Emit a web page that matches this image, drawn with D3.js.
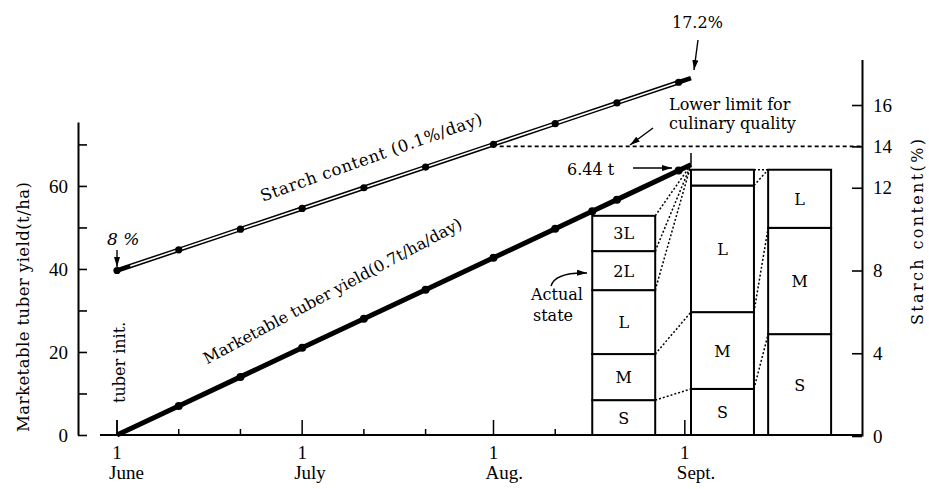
<!DOCTYPE html>
<html><head><meta charset="utf-8">
<script src="https://cdn.jsdelivr.net/npm/d3@7/dist/d3.min.js"></script>
<style>body{margin:0;background:#fff}svg{display:block}</style>
</head><body>
<svg id="chart" width="929" height="489"></svg>
<script>
// ---------------- data ----------------
const starchDays   = [0, 10, 20, 30, 40, 50, 61, 71, 81, 91, 93];
const starchValues = [8.0, 9.0, 10.0, 11.0, 12.0, 13.0, 14.1, 15.1, 16.1, 17.1, 17.3];
const yieldDays    = [0, 10, 20, 30, 40, 50, 61, 71, 77, 81, 91, 93];
const yieldValues  = [0, 7.0, 14.0, 21.0, 28.0, 35.0, 42.7, 49.7, 53.9, 56.7, 63.7, 65.1];
const limitStarch  = 14;
const barStartDays = [77, 93, 105.5];
const barClasses   = [["S", "M", "L", "2L", "3L"], ["S", "M", "L", ""], ["S", "M", "L"]];
const barSegments  = [[8.4, 11.1, 15.4, 9.4, 8.5], [11.1, 18.5, 30.5, 3.8], [24.3, 25.6, 14.0]];
// dotted links: [boundary index in bar i, boundary index in bar i+1] (-1 = end of yield line)
const barLinks     = [[[0, 0], [1, 1], [2, -1], [3, -1], [4, -1]], [[0, 0], [1, 1], [2, 2], [3, 2]]];
const leftTicks    = [0, 10, 20, 30, 40, 50, 60, 70];
const leftLabels   = [0, 20, 40, 60];
const rightTicks   = [0, 4, 8, 12, 14, 16];
const monthDays    = [0, 30, 61, 92];
const monthNames   = ["June", "July", "Aug.", "Sept."];
const minorDays    = [10, 20, 40, 50, 71, 81];

// ---------------- layout ----------------
const svg = d3.select("#chart");
const serif = "'DejaVu Serif', serif";
const numFont = "'Liberation Serif', serif";
const x  = d3.scaleLinear().domain([0, 93]).range([117, 691]);
const yL = d3.scaleLinear().domain([0, 75.4]).range([435, 122]);
const yR = d3.scaleLinear().domain([0, 18.2]).range([436, 59.5]);
const barW = 10.2;
const axisY = 435, axisLeftX = 78, axisRightX = 862;

const defs = svg.append("defs");
defs.append("marker").attr("id", "ah").attr("viewBox", "0 0 10 6")
  .attr("refX", 10).attr("refY", 3).attr("markerWidth", 10).attr("markerHeight", 6)
  .attr("markerUnits", "userSpaceOnUse").attr("orient", "auto")
  .append("path").attr("d", "M0,0 L10,3 L0,6 Z").attr("fill", "#000");

// left axis
const gL = svg.append("g").attr("transform", `translate(${axisLeftX},0)`)
  .call(d3.axisLeft(yL).tickValues(leftTicks).tickSizeInner(-9).tickSizeOuter(0).tickPadding(10)
    .tickFormat(d => leftLabels.includes(d) ? d : ""));
gL.selectAll("path.domain").attr("stroke", "#000").attr("stroke-width", 2);
gL.selectAll(".tick line").attr("stroke", "#000").attr("stroke-width", 1.6);
gL.selectAll(".tick text").attr("font-family", numFont).attr("font-size", 19).attr("fill", "#000");

// right axis
const gR = svg.append("g").attr("transform", `translate(${axisRightX},0)`)
  .call(d3.axisRight(yR).tickValues(rightTicks).tickSizeInner(-10).tickSizeOuter(0).tickPadding(11));
gR.selectAll("path.domain").attr("stroke", "#000").attr("stroke-width", 2);
gR.selectAll(".tick line").attr("stroke", "#000").attr("stroke-width", 1.6);
gR.selectAll(".tick text").attr("font-family", numFont).attr("font-size", 19).attr("fill", "#000");

// bottom axis
svg.append("line").attr("x1", 100).attr("x2", axisRightX).attr("y1", axisY).attr("y2", axisY)
  .attr("stroke", "#000").attr("stroke-width", 2);
svg.selectAll(".minor").data(minorDays).join("line")
  .attr("x1", d => x(d)).attr("x2", d => x(d)).attr("y1", axisY).attr("y2", axisY - 6)
  .attr("stroke", "#000").attr("stroke-width", 1.5);
svg.selectAll(".major").data(monthDays).join("line")
  .attr("x1", d => x(d)).attr("x2", d => x(d)).attr("y1", axisY).attr("y2", axisY - 15)
  .attr("stroke", "#000").attr("stroke-width", 1.5);
svg.selectAll(".mday").data(monthDays).join("text")
  .attr("x", d => x(d)).attr("y", 459).attr("text-anchor", "middle")
  .attr("font-family", numFont).attr("font-size", 19).text("1");
svg.selectAll(".mname").data(monthDays).join("text")
  .attr("x", d => x(d) - 8).attr("y", 479)
  .attr("font-family", numFont).attr("font-size", 19).text((d, i) => monthNames[i]);

// axis titles
svg.append("text").attr("transform", "translate(29,307) rotate(-90)").attr("text-anchor", "middle")
  .attr("font-family", serif).attr("font-size", 16.5).attr("textLength", 250).attr("lengthAdjust", "spacing")
  .text("Marketable tuber yield(t/ha)");
svg.append("text").attr("transform", "translate(923,232) rotate(-90)").attr("text-anchor", "middle")
  .attr("font-family", serif).attr("font-size", 16).attr("textLength", 186).attr("lengthAdjust", "spacing")
  .text("Starch content(%)");

// lower limit line
svg.append("line").attr("x1", x(62)).attr("x2", axisRightX).attr("y1", yR(limitStarch)).attr("y2", yR(limitStarch))
  .attr("stroke", "#000").attr("stroke-width", 1.6).attr("stroke-dasharray", "4,3");

// bars
const bars = barSegments.map((segs, i) => {
  let acc = 0;
  const bounds = segs.map(v => (acc += v));
  return { i, x0: x(barStartDays[i]), x1: x(barStartDays[i] + barW), segs, bounds };
});
bars.forEach(b => {
  const g = svg.append("g");
  let prev = 0;
  b.bounds.forEach((top, j) => {
    g.append("rect").attr("x", b.x0).attr("y", yL(top)).attr("width", b.x1 - b.x0)
      .attr("height", yL(prev) - yL(top)).attr("fill", "#fff").attr("stroke", "#000").attr("stroke-width", 2);
    if (barClasses[b.i][j]) {
      g.append("text").attr("x", (b.x0 + b.x1) / 2).attr("y", (yL(prev) + yL(top)) / 2 + 6)
        .attr("text-anchor", "middle").attr("font-family", serif).attr("font-size", 16)
        .text(barClasses[b.i][j]);
    }
    prev = top;
  });
});
// links between bars
const yieldEnd = [x(yieldDays[yieldDays.length - 1]), yL(yieldValues[yieldValues.length - 1])];
barLinks.forEach((links, i) => {
  const a = bars[i], b = bars[i + 1];
  links.forEach(([p, q]) => {
    const x2 = q < 0 ? yieldEnd[0] : b.x0;
    const y2 = q < 0 ? yieldEnd[1] : yL(b.bounds[q]);
    svg.append("line").attr("x1", a.x1).attr("y1", yL(a.bounds[p])).attr("x2", x2).attr("y2", y2)
      .attr("stroke", "#000").attr("stroke-width", 1.5).attr("stroke-dasharray", "2,2");
  });
});
// marker line at end of yield
svg.append("line").attr("x1", yieldEnd[0]).attr("x2", yieldEnd[0]).attr("y1", yieldEnd[1]).attr("y2", 153)
  .attr("stroke", "#000").attr("stroke-width", 1.5);
// tuber init tick
svg.append("line").attr("x1", x(0)).attr("x2", x(0)).attr("y1", axisY).attr("y2", axisY - 15)
  .attr("stroke", "#000").attr("stroke-width", 1.5);

// starch line (double line)
const starchPts = starchDays.map((d, i) => [x(d), yR(starchValues[i])]);
const lineGen = d3.line();
svg.append("path").attr("d", lineGen(starchPts)).attr("fill", "none")
  .attr("stroke", "#000").attr("stroke-width", 4.6);
svg.append("path").attr("d", lineGen(starchPts.slice(0, -1))).attr("fill", "none")
  .attr("stroke", "#fff").attr("stroke-width", 1.6).attr("stroke-dasharray", "0,14,5000");
svg.selectAll(".sdot").data(starchPts.slice(0, -1)).join("circle")
  .attr("cx", d => d[0]).attr("cy", d => d[1]).attr("r", 3.6).attr("fill", "#000");

// yield line
const yieldPts = yieldDays.map((d, i) => [x(d), yL(yieldValues[i])]);
svg.append("path").attr("d", lineGen(yieldPts)).attr("fill", "none")
  .attr("stroke", "#000").attr("stroke-width", 5);
svg.selectAll(".ydot").data(yieldPts.slice(1, -1)).join("circle")
  .attr("cx", d => d[0]).attr("cy", d => d[1]).attr("r", 4).attr("fill", "#000");

// labels along lines (anchored at a fraction of each line, tilted a little more than the line)
function along(pts, t, off, extraTilt) {
  const a = pts[0], b = pts[pts.length - 1];
  const ang = Math.atan2(b[1] - a[1], b[0] - a[0]) * 180 / Math.PI - extraTilt;
  const px = a[0] + (b[0] - a[0]) * t, py = a[1] + (b[1] - a[1]) * t - off;
  return `translate(${px},${py}) rotate(${ang})`;
}
svg.append("text").attr("transform", along(starchPts, 0.254, 20, 1))
  .attr("font-family", serif).attr("font-size", 16.5).attr("textLength", 234).attr("lengthAdjust", "spacing")
  .text("Starch content (0.1%/day)");
svg.append("text").attr("transform", along(yieldPts, 0.157, 28, 3))
  .attr("font-family", serif).attr("font-size", 16)
  .text("Marketable tuber yield(0.7t/ha/day)");

// annotations
function txt(s, x0, y0, anchor, extra) {
  const t = svg.append("text").attr("x", x0).attr("y", y0).attr("text-anchor", anchor || "start")
    .attr("font-family", serif).attr("font-size", 16).text(s);
  if (extra) extra(t);
  return t;
}
function arrow(x1, y1, x2, y2) {
  svg.append("line").attr("x1", x1).attr("y1", y1).attr("x2", x2).attr("y2", y2)
    .attr("stroke", "#000").attr("stroke-width", 1.4).attr("marker-end", "url(#ah)");
}
txt("8 %", 107, 245, "start", t => t.attr("font-style", "italic").attr("font-size", 17));
arrow(x(0), 250, x(0), 267);
txt("17.2%", 672, 28);
arrow(698, 40, 694, 70);
txt("Lower limit for", 669, 110);
txt("culinary quality", 669, 129);
arrow(653, 128, 630, 145);
txt("6.44 t", 567, 175);
arrow(633, 168, 672, 168);
txt("Actual", 557, 300, "middle");
txt("state", 553, 321, "middle");
svg.append("path").attr("d", "M551,286 Q555,272 587,273").attr("fill", "none")
  .attr("stroke", "#000").attr("stroke-width", 1.4).attr("marker-end", "url(#ah)");
svg.append("text").attr("transform", "translate(125,403) rotate(-90)")
  .attr("font-family", serif).attr("font-size", 16).text("tuber init.");
</script>
</body></html>
